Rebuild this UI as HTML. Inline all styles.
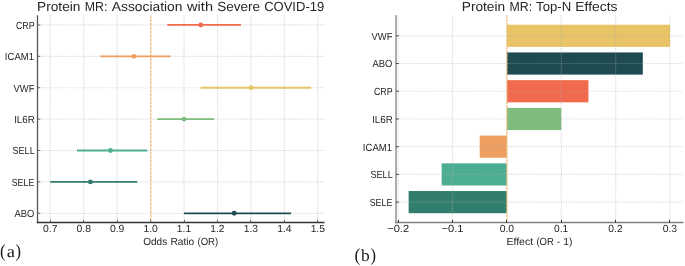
<!DOCTYPE html>
<html><head><meta charset="utf-8"><style>
html,body{margin:0;padding:0;background:#fff;}
svg{display:block;will-change:transform;}
text{text-rendering:geometricPrecision;}
</style></head><body>
<svg width="685" height="266" viewBox="0 0 685 266">
<rect width="685" height="266" fill="#fff"/>
<rect x="506.90" y="24.71" width="163.08" height="22.18" fill="#E8C466"/>
<rect x="506.90" y="52.43" width="135.90" height="22.18" fill="#1E4B52"/>
<rect x="506.90" y="80.15" width="81.54" height="22.18" fill="#F26A4E"/>
<rect x="506.90" y="107.87" width="54.36" height="22.18" fill="#7DBC7A"/>
<rect x="479.72" y="135.59" width="27.18" height="22.18" fill="#EE9E5F"/>
<rect x="441.67" y="163.31" width="65.23" height="22.18" fill="#4CAD92"/>
<rect x="408.62" y="191.03" width="98.28" height="22.18" fill="#327E6E"/>
<line x1="37.5" y1="24.95" x2="324.5" y2="24.95" stroke="#b0b0b0" stroke-opacity="0.4" stroke-width="1.2" stroke-dasharray="1.4 1.1"/>
<line x1="37.5" y1="56.34" x2="324.5" y2="56.34" stroke="#b0b0b0" stroke-opacity="0.4" stroke-width="1.2" stroke-dasharray="1.4 1.1"/>
<line x1="37.5" y1="87.73" x2="324.5" y2="87.73" stroke="#b0b0b0" stroke-opacity="0.4" stroke-width="1.2" stroke-dasharray="1.4 1.1"/>
<line x1="37.5" y1="119.12" x2="324.5" y2="119.12" stroke="#b0b0b0" stroke-opacity="0.4" stroke-width="1.2" stroke-dasharray="1.4 1.1"/>
<line x1="37.5" y1="150.51" x2="324.5" y2="150.51" stroke="#b0b0b0" stroke-opacity="0.4" stroke-width="1.2" stroke-dasharray="1.4 1.1"/>
<line x1="37.5" y1="181.90" x2="324.5" y2="181.90" stroke="#b0b0b0" stroke-opacity="0.4" stroke-width="1.2" stroke-dasharray="1.4 1.1"/>
<line x1="37.5" y1="213.29" x2="324.5" y2="213.29" stroke="#b0b0b0" stroke-opacity="0.4" stroke-width="1.2" stroke-dasharray="1.4 1.1"/>
<line x1="50.25" y1="15.3" x2="50.25" y2="222.5" stroke="#b0b0b0" stroke-opacity="0.4" stroke-width="1.2" stroke-dasharray="1.4 1.1"/>
<line x1="83.70" y1="15.3" x2="83.70" y2="222.5" stroke="#b0b0b0" stroke-opacity="0.4" stroke-width="1.2" stroke-dasharray="1.4 1.1"/>
<line x1="117.15" y1="15.3" x2="117.15" y2="222.5" stroke="#b0b0b0" stroke-opacity="0.4" stroke-width="1.2" stroke-dasharray="1.4 1.1"/>
<line x1="150.60" y1="15.3" x2="150.60" y2="222.5" stroke="#b0b0b0" stroke-opacity="0.4" stroke-width="1.2" stroke-dasharray="1.4 1.1"/>
<line x1="184.05" y1="15.3" x2="184.05" y2="222.5" stroke="#b0b0b0" stroke-opacity="0.4" stroke-width="1.2" stroke-dasharray="1.4 1.1"/>
<line x1="217.50" y1="15.3" x2="217.50" y2="222.5" stroke="#b0b0b0" stroke-opacity="0.4" stroke-width="1.2" stroke-dasharray="1.4 1.1"/>
<line x1="250.95" y1="15.3" x2="250.95" y2="222.5" stroke="#b0b0b0" stroke-opacity="0.4" stroke-width="1.2" stroke-dasharray="1.4 1.1"/>
<line x1="284.40" y1="15.3" x2="284.40" y2="222.5" stroke="#b0b0b0" stroke-opacity="0.4" stroke-width="1.2" stroke-dasharray="1.4 1.1"/>
<line x1="317.85" y1="15.3" x2="317.85" y2="222.5" stroke="#b0b0b0" stroke-opacity="0.4" stroke-width="1.2" stroke-dasharray="1.4 1.1"/>
<line x1="396.0" y1="35.80" x2="683.5" y2="35.80" stroke="#b0b0b0" stroke-opacity="0.4" stroke-width="1.2" stroke-dasharray="1.4 1.1"/>
<line x1="396.0" y1="63.52" x2="683.5" y2="63.52" stroke="#b0b0b0" stroke-opacity="0.4" stroke-width="1.2" stroke-dasharray="1.4 1.1"/>
<line x1="396.0" y1="91.24" x2="683.5" y2="91.24" stroke="#b0b0b0" stroke-opacity="0.4" stroke-width="1.2" stroke-dasharray="1.4 1.1"/>
<line x1="396.0" y1="118.96" x2="683.5" y2="118.96" stroke="#b0b0b0" stroke-opacity="0.4" stroke-width="1.2" stroke-dasharray="1.4 1.1"/>
<line x1="396.0" y1="146.68" x2="683.5" y2="146.68" stroke="#b0b0b0" stroke-opacity="0.4" stroke-width="1.2" stroke-dasharray="1.4 1.1"/>
<line x1="396.0" y1="174.40" x2="683.5" y2="174.40" stroke="#b0b0b0" stroke-opacity="0.4" stroke-width="1.2" stroke-dasharray="1.4 1.1"/>
<line x1="396.0" y1="202.12" x2="683.5" y2="202.12" stroke="#b0b0b0" stroke-opacity="0.4" stroke-width="1.2" stroke-dasharray="1.4 1.1"/>
<line x1="398.18" y1="15.3" x2="398.18" y2="222.5" stroke="#b0b0b0" stroke-opacity="0.4" stroke-width="1.2" stroke-dasharray="1.4 1.1"/>
<line x1="452.54" y1="15.3" x2="452.54" y2="222.5" stroke="#b0b0b0" stroke-opacity="0.4" stroke-width="1.2" stroke-dasharray="1.4 1.1"/>
<line x1="506.90" y1="15.3" x2="506.90" y2="222.5" stroke="#b0b0b0" stroke-opacity="0.4" stroke-width="1.2" stroke-dasharray="1.4 1.1"/>
<line x1="561.26" y1="15.3" x2="561.26" y2="222.5" stroke="#b0b0b0" stroke-opacity="0.4" stroke-width="1.2" stroke-dasharray="1.4 1.1"/>
<line x1="615.62" y1="15.3" x2="615.62" y2="222.5" stroke="#b0b0b0" stroke-opacity="0.4" stroke-width="1.2" stroke-dasharray="1.4 1.1"/>
<line x1="669.98" y1="15.3" x2="669.98" y2="222.5" stroke="#b0b0b0" stroke-opacity="0.4" stroke-width="1.2" stroke-dasharray="1.4 1.1"/>
<line x1="150.90" y1="15.3" x2="150.90" y2="222.5" stroke="#F5C074" stroke-width="1.4" stroke-dasharray="2.9 1.0" opacity="0.85"/>
<line x1="506.90" y1="15.3" x2="506.90" y2="222.5" stroke="#F5C074" stroke-width="1.4" stroke-dasharray="2.9 1.0" opacity="0.85"/>
<line x1="167.33" y1="24.95" x2="240.92" y2="24.95" stroke="#F26A4E" stroke-width="1.8"/>
<circle cx="200.77" cy="24.95" r="2.45" fill="#F26A4E"/>
<line x1="100.42" y1="56.34" x2="170.67" y2="56.34" stroke="#EE9E5F" stroke-width="1.8"/>
<circle cx="133.87" cy="56.34" r="2.45" fill="#EE9E5F"/>
<line x1="200.77" y1="87.73" x2="311.16" y2="87.73" stroke="#E8C466" stroke-width="1.8"/>
<circle cx="250.95" cy="87.73" r="2.45" fill="#E8C466"/>
<line x1="157.29" y1="119.12" x2="214.15" y2="119.12" stroke="#7DBC7A" stroke-width="1.8"/>
<circle cx="184.05" cy="119.12" r="2.45" fill="#7DBC7A"/>
<line x1="77.01" y1="150.51" x2="147.25" y2="150.51" stroke="#4CAD92" stroke-width="1.8"/>
<circle cx="110.46" cy="150.51" r="2.45" fill="#4CAD92"/>
<line x1="50.25" y1="181.90" x2="137.22" y2="181.90" stroke="#327E6E" stroke-width="1.8"/>
<circle cx="90.39" cy="181.90" r="2.45" fill="#327E6E"/>
<line x1="184.05" y1="213.29" x2="291.09" y2="213.29" stroke="#1E4B52" stroke-width="1.8"/>
<circle cx="234.22" cy="213.29" r="2.45" fill="#1E4B52"/>
<line x1="37.5" y1="15.3" x2="37.5" y2="223.2" stroke="#555" stroke-width="1.3"/>
<line x1="36.85" y1="222.5" x2="324.5" y2="222.5" stroke="#333" stroke-width="1.4"/>
<line x1="396.0" y1="15.3" x2="396.0" y2="223.2" stroke="#8a8a8a" stroke-width="1.4"/>
<line x1="395.2" y1="222.5" x2="683.5" y2="222.5" stroke="#808080" stroke-width="1.4"/>
<line x1="37.5" y1="24.95" x2="40.2" y2="24.95" stroke="#666" stroke-width="1"/>
<line x1="396.0" y1="35.80" x2="398.7" y2="35.80" stroke="#444" stroke-width="1"/>
<line x1="37.5" y1="56.34" x2="40.2" y2="56.34" stroke="#666" stroke-width="1"/>
<line x1="396.0" y1="63.52" x2="398.7" y2="63.52" stroke="#444" stroke-width="1"/>
<line x1="37.5" y1="87.73" x2="40.2" y2="87.73" stroke="#666" stroke-width="1"/>
<line x1="396.0" y1="91.24" x2="398.7" y2="91.24" stroke="#444" stroke-width="1"/>
<line x1="37.5" y1="119.12" x2="40.2" y2="119.12" stroke="#666" stroke-width="1"/>
<line x1="396.0" y1="118.96" x2="398.7" y2="118.96" stroke="#444" stroke-width="1"/>
<line x1="37.5" y1="150.51" x2="40.2" y2="150.51" stroke="#666" stroke-width="1"/>
<line x1="396.0" y1="146.68" x2="398.7" y2="146.68" stroke="#444" stroke-width="1"/>
<line x1="37.5" y1="181.90" x2="40.2" y2="181.90" stroke="#666" stroke-width="1"/>
<line x1="396.0" y1="174.40" x2="398.7" y2="174.40" stroke="#444" stroke-width="1"/>
<line x1="37.5" y1="213.29" x2="40.2" y2="213.29" stroke="#666" stroke-width="1"/>
<line x1="396.0" y1="202.12" x2="398.7" y2="202.12" stroke="#444" stroke-width="1"/>
<line x1="50.50" y1="222.5" x2="50.50" y2="219.8" stroke="#666" stroke-width="1"/>
<line x1="83.50" y1="222.5" x2="83.50" y2="219.8" stroke="#666" stroke-width="1"/>
<line x1="117.50" y1="222.5" x2="117.50" y2="219.8" stroke="#666" stroke-width="1"/>
<line x1="150.50" y1="222.5" x2="150.50" y2="219.8" stroke="#666" stroke-width="1"/>
<line x1="184.50" y1="222.5" x2="184.50" y2="219.8" stroke="#666" stroke-width="1"/>
<line x1="217.50" y1="222.5" x2="217.50" y2="219.8" stroke="#666" stroke-width="1"/>
<line x1="250.50" y1="222.5" x2="250.50" y2="219.8" stroke="#666" stroke-width="1"/>
<line x1="284.50" y1="222.5" x2="284.50" y2="219.8" stroke="#666" stroke-width="1"/>
<line x1="317.50" y1="222.5" x2="317.50" y2="219.8" stroke="#666" stroke-width="1"/>
<line x1="398.50" y1="222.5" x2="398.50" y2="219.8" stroke="#333" stroke-width="1"/>
<line x1="452.50" y1="222.5" x2="452.50" y2="219.8" stroke="#333" stroke-width="1"/>
<line x1="506.50" y1="222.5" x2="506.50" y2="219.8" stroke="#333" stroke-width="1"/>
<line x1="561.50" y1="222.5" x2="561.50" y2="219.8" stroke="#333" stroke-width="1"/>
<line x1="615.50" y1="222.5" x2="615.50" y2="219.8" stroke="#333" stroke-width="1"/>
<line x1="669.50" y1="222.5" x2="669.50" y2="219.8" stroke="#333" stroke-width="1"/>
<text x="15.89" y="28.78" style="font-family:'Liberation Sans',sans-serif" font-size="10.30" textLength="18.78" lengthAdjust="spacingAndGlyphs" fill="#262626">CRP</text>
<text x="4.84" y="60.17" style="font-family:'Liberation Sans',sans-serif" font-size="10.30" textLength="29.24" lengthAdjust="spacingAndGlyphs" fill="#262626">ICAM1</text>
<text x="13.50" y="91.56" style="font-family:'Liberation Sans',sans-serif" font-size="10.30" textLength="20.89" lengthAdjust="spacingAndGlyphs" fill="#262626">VWF</text>
<text x="14.13" y="122.95" style="font-family:'Liberation Sans',sans-serif" font-size="10.30" textLength="20.57" lengthAdjust="spacingAndGlyphs" fill="#262626">IL6R</text>
<text x="12.41" y="154.34" style="font-family:'Liberation Sans',sans-serif" font-size="10.30" textLength="22.32" lengthAdjust="spacingAndGlyphs" fill="#262626">SELL</text>
<text x="11.73" y="185.73" style="font-family:'Liberation Sans',sans-serif" font-size="10.30" textLength="22.58" lengthAdjust="spacingAndGlyphs" fill="#262626">SELE</text>
<text x="14.57" y="217.12" style="font-family:'Liberation Sans',sans-serif" font-size="10.30" textLength="19.86" lengthAdjust="spacingAndGlyphs" fill="#262626">ABO</text>
<text x="371.50" y="39.63" style="font-family:'Liberation Sans',sans-serif" font-size="10.30" textLength="20.89" lengthAdjust="spacingAndGlyphs" fill="#262626">VWF</text>
<text x="372.57" y="67.35" style="font-family:'Liberation Sans',sans-serif" font-size="10.30" textLength="19.86" lengthAdjust="spacingAndGlyphs" fill="#262626">ABO</text>
<text x="373.89" y="95.07" style="font-family:'Liberation Sans',sans-serif" font-size="10.30" textLength="18.78" lengthAdjust="spacingAndGlyphs" fill="#262626">CRP</text>
<text x="372.13" y="122.79" style="font-family:'Liberation Sans',sans-serif" font-size="10.30" textLength="20.57" lengthAdjust="spacingAndGlyphs" fill="#262626">IL6R</text>
<text x="362.84" y="150.51" style="font-family:'Liberation Sans',sans-serif" font-size="10.30" textLength="29.24" lengthAdjust="spacingAndGlyphs" fill="#262626">ICAM1</text>
<text x="370.41" y="178.23" style="font-family:'Liberation Sans',sans-serif" font-size="10.30" textLength="22.32" lengthAdjust="spacingAndGlyphs" fill="#262626">SELL</text>
<text x="369.73" y="205.95" style="font-family:'Liberation Sans',sans-serif" font-size="10.30" textLength="22.58" lengthAdjust="spacingAndGlyphs" fill="#262626">SELE</text>
<text x="43.00" y="232.10" style="font-family:'Liberation Sans',sans-serif" font-size="10.30" textLength="14.41" lengthAdjust="spacingAndGlyphs" fill="#262626">0.7</text>
<text x="76.45" y="232.10" style="font-family:'Liberation Sans',sans-serif" font-size="10.30" textLength="14.50" lengthAdjust="spacingAndGlyphs" fill="#262626">0.8</text>
<text x="109.90" y="232.10" style="font-family:'Liberation Sans',sans-serif" font-size="10.30" textLength="14.51" lengthAdjust="spacingAndGlyphs" fill="#262626">0.9</text>
<text x="143.41" y="232.10" style="font-family:'Liberation Sans',sans-serif" font-size="10.30" textLength="14.38" lengthAdjust="spacingAndGlyphs" fill="#262626">1.0</text>
<text x="176.87" y="232.10" style="font-family:'Liberation Sans',sans-serif" font-size="10.30" textLength="14.24" lengthAdjust="spacingAndGlyphs" fill="#262626">1.1</text>
<text x="210.32" y="232.10" style="font-family:'Liberation Sans',sans-serif" font-size="10.30" textLength="14.19" lengthAdjust="spacingAndGlyphs" fill="#262626">1.2</text>
<text x="243.77" y="232.10" style="font-family:'Liberation Sans',sans-serif" font-size="10.30" textLength="14.29" lengthAdjust="spacingAndGlyphs" fill="#262626">1.3</text>
<text x="277.21" y="232.10" style="font-family:'Liberation Sans',sans-serif" font-size="10.30" textLength="14.43" lengthAdjust="spacingAndGlyphs" fill="#262626">1.4</text>
<text x="310.67" y="232.10" style="font-family:'Liberation Sans',sans-serif" font-size="10.30" textLength="14.24" lengthAdjust="spacingAndGlyphs" fill="#262626">1.5</text>
<text x="387.24" y="232.10" style="font-family:'Liberation Sans',sans-serif" font-size="10.30" textLength="21.88" lengthAdjust="spacingAndGlyphs" fill="#262626">−0.2</text>
<text x="441.60" y="232.10" style="font-family:'Liberation Sans',sans-serif" font-size="10.30" textLength="21.92" lengthAdjust="spacingAndGlyphs" fill="#262626">−0.1</text>
<text x="499.65" y="232.10" style="font-family:'Liberation Sans',sans-serif" font-size="10.30" textLength="14.45" lengthAdjust="spacingAndGlyphs" fill="#262626">0.0</text>
<text x="554.01" y="232.10" style="font-family:'Liberation Sans',sans-serif" font-size="10.30" textLength="14.31" lengthAdjust="spacingAndGlyphs" fill="#262626">0.1</text>
<text x="608.37" y="232.10" style="font-family:'Liberation Sans',sans-serif" font-size="10.30" textLength="14.26" lengthAdjust="spacingAndGlyphs" fill="#262626">0.2</text>
<text x="662.73" y="232.10" style="font-family:'Liberation Sans',sans-serif" font-size="10.30" textLength="14.35" lengthAdjust="spacingAndGlyphs" fill="#262626">0.3</text>
<text x="143.22" y="245.40" style="font-family:'Liberation Sans',sans-serif" font-size="10.30" textLength="23.97" lengthAdjust="spacingAndGlyphs" fill="#262626">Odds</text>
<text x="170.38" y="245.40" style="font-family:'Liberation Sans',sans-serif" font-size="10.30" textLength="23.82" lengthAdjust="spacingAndGlyphs" fill="#262626">Ratio</text>
<text x="197.49" y="245.40" style="font-family:'Liberation Sans',sans-serif" font-size="10.30" textLength="20.72" lengthAdjust="spacingAndGlyphs" fill="#262626">(OR)</text>
<text x="506.41" y="245.40" style="font-family:'Liberation Sans',sans-serif" font-size="10.30" textLength="26.72" lengthAdjust="spacingAndGlyphs" fill="#262626">Effect</text>
<text x="536.45" y="245.40" style="font-family:'Liberation Sans',sans-serif" font-size="10.30" textLength="17.46" lengthAdjust="spacingAndGlyphs" fill="#262626">(OR</text>
<text x="556.74" y="245.40" style="font-family:'Liberation Sans',sans-serif" font-size="10.30" textLength="3.37" lengthAdjust="spacingAndGlyphs" fill="#262626">-</text>
<text x="563.33" y="245.40" style="font-family:'Liberation Sans',sans-serif" font-size="10.30" textLength="9.21" lengthAdjust="spacingAndGlyphs" fill="#262626">1)</text>
<text x="37.02" y="11.10" style="font-family:'Liberation Sans',sans-serif" font-size="13.18" textLength="43.40" lengthAdjust="spacingAndGlyphs" fill="#262626">Protein</text>
<text x="84.77" y="11.10" style="font-family:'Liberation Sans',sans-serif" font-size="13.18" textLength="22.63" lengthAdjust="spacingAndGlyphs" fill="#262626">MR:</text>
<text x="111.82" y="11.10" style="font-family:'Liberation Sans',sans-serif" font-size="13.18" textLength="70.66" lengthAdjust="spacingAndGlyphs" fill="#262626">Association</text>
<text x="187.10" y="11.10" style="font-family:'Liberation Sans',sans-serif" font-size="13.18" textLength="25.92" lengthAdjust="spacingAndGlyphs" fill="#262626">with</text>
<text x="217.20" y="11.10" style="font-family:'Liberation Sans',sans-serif" font-size="13.18" textLength="42.95" lengthAdjust="spacingAndGlyphs" fill="#262626">Severe</text>
<text x="264.13" y="11.10" style="font-family:'Liberation Sans',sans-serif" font-size="13.18" textLength="60.14" lengthAdjust="spacingAndGlyphs" fill="#262626">COVID-19</text>
<text x="461.76" y="11.10" style="font-family:'Liberation Sans',sans-serif" font-size="13.18" textLength="43.40" lengthAdjust="spacingAndGlyphs" fill="#262626">Protein</text>
<text x="509.51" y="11.10" style="font-family:'Liberation Sans',sans-serif" font-size="13.18" textLength="22.63" lengthAdjust="spacingAndGlyphs" fill="#262626">MR:</text>
<text x="536.11" y="11.10" style="font-family:'Liberation Sans',sans-serif" font-size="13.18" textLength="35.05" lengthAdjust="spacingAndGlyphs" fill="#262626">Top-N</text>
<text x="575.37" y="11.10" style="font-family:'Liberation Sans',sans-serif" font-size="13.18" textLength="42.13" lengthAdjust="spacingAndGlyphs" fill="#262626">Effects</text>
<text x="0.04" y="256.80" style="font-family:'Liberation Serif',serif" font-size="18.35" textLength="5.62" lengthAdjust="spacingAndGlyphs" fill="#1a1a1a">(</text>
<text x="6.65" y="256.90" style="font-family:'Liberation Serif',serif" font-size="16.80" textLength="8.20" lengthAdjust="spacingAndGlyphs" fill="#1a1a1a">a</text>
<text x="15.40" y="256.80" style="font-family:'Liberation Serif',serif" font-size="18.35" textLength="5.51" lengthAdjust="spacingAndGlyphs" fill="#1a1a1a">)</text>
<text x="354.51" y="260.75" style="font-family:'Liberation Serif',serif" font-size="18.35" textLength="5.88" lengthAdjust="spacingAndGlyphs" fill="#1a1a1a">(</text>
<text x="360.90" y="260.70" style="font-family:'Liberation Serif',serif" font-size="16.80" textLength="8.70" lengthAdjust="spacingAndGlyphs" fill="#1a1a1a">b</text>
<text x="370.50" y="260.75" style="font-family:'Liberation Serif',serif" font-size="18.35" textLength="5.51" lengthAdjust="spacingAndGlyphs" fill="#1a1a1a">)</text>
</svg>
</body></html>
